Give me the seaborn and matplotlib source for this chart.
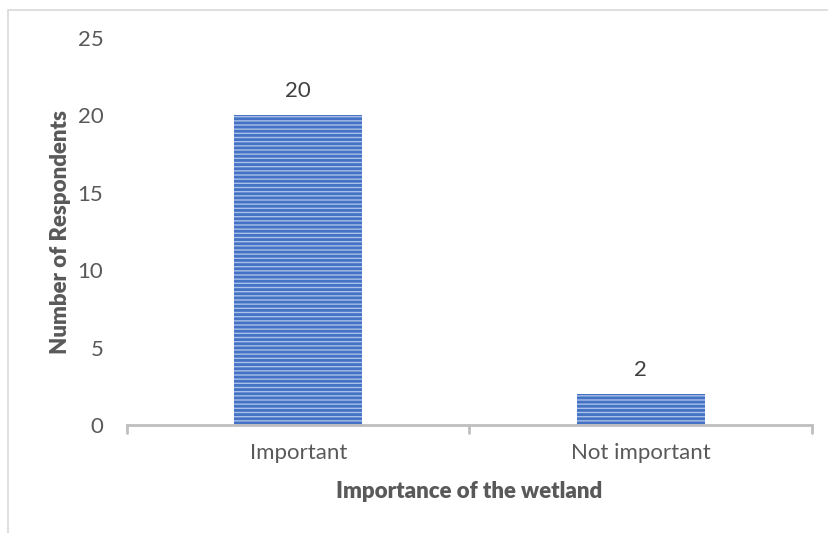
import matplotlib
matplotlib.use("Agg")
import matplotlib.pyplot as plt
import seaborn as sns
import pandas as pd
from matplotlib.patches import Rectangle

# data
categories = ["Important", "Not important"]
respondents = [20, 2]
y_ticks = [0, 5, 10, 15, 20, 25]

sns.set_theme(style="white")
plt.rcParams['font.family'] = ['Lato', 'DejaVu Sans']
plt.rcParams['hatch.linewidth'] = 2.0

df = pd.DataFrame({"category": categories, "count": respondents})

fig = plt.figure(figsize=(8.29, 5.33), dpi=100)
ax = fig.add_axes([127 / 829, 108 / 533, 685 / 829, 387 / 533])

sns.barplot(data=df, x="category", y="count", ax=ax, width=0.375,
            color="#A9C0E8", edgecolor="#4472C4", linewidth=0, hatch="----",
            saturation=1)

ax.set_xlim(-0.5, 1.5)
ax.set_ylim(0, 25)
ax.set_yticks(y_ticks)

text_col = "#595959"
fs = 16
ax.tick_params(axis="y", length=0, pad=17, labelsize=fs, labelcolor=text_col)
ax.tick_params(axis="x", length=0, pad=13, labelsize=fs, labelcolor=text_col)

# category boundary tick marks
for xb in [-0.5, 0.5, 1.5]:
    ax.plot([xb, xb], [0, -0.5], color="#BFBFBF", lw=2, clip_on=False)

for s in ["top", "right", "left"]:
    ax.spines[s].set_visible(False)
ax.spines["bottom"].set_color("#BFBFBF")
ax.spines["bottom"].set_linewidth(2)

for i, v in enumerate(respondents):
    ax.text(i, v + 0.9, str(v), ha="center", va="bottom", fontsize=fs, color="#404040")

ax.set_xlabel("Importance of the wetland", fontsize=fs, fontweight="heavy", color=text_col, labelpad=13)
ax.set_ylabel("Number of Respondents", fontsize=fs, fontweight="heavy", color=text_col, labelpad=5)

# chart area border (clipped at right/bottom like the reference)
fig.patches.append(Rectangle((8 / 829, -0.1), 1.0, 1.0 - 10 / 533 + 0.1,
                             transform=fig.transFigure, fill=False,
                             edgecolor="#D9D9D9", lw=1.2))

fig.savefig("out.png", dpi=100)
